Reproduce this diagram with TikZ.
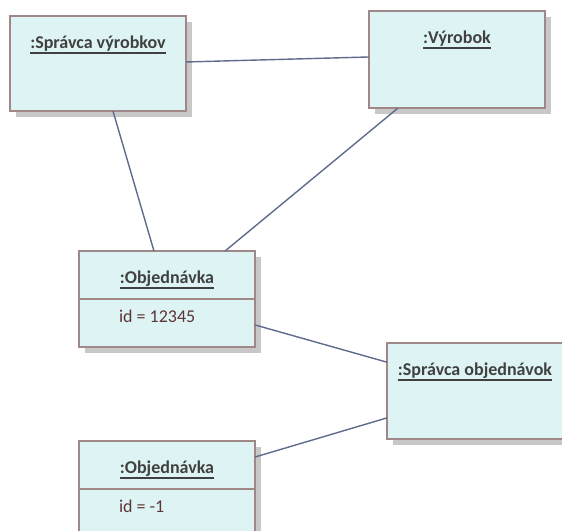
\documentclass[tikz,border=0pt]{standalone}
\usepackage{fontspec}
\setmainfont{Carlito}
\usetikzlibrary{calc,shadows}

\definecolor{objfill}{HTML}{DEF4F4}
\definecolor{objborder}{HTML}{A08888}
\definecolor{objshadow}{HTML}{C8C8C8}
\definecolor{linkcol}{HTML}{5F6B8C}
\definecolor{titlecol}{HTML}{404040}
\definecolor{attrcol}{HTML}{5E3535}

\tikzset{
  objbox/.style={draw=objborder, line width=2pt, fill=objfill, rectangle,
    anchor=north west, minimum width=176pt, minimum height=96pt,
    inner sep=0pt, outer sep=0pt,
    drop shadow={shadow xshift=6pt, shadow yshift=-6pt, fill=objshadow, opacity=1}},
  objtitle/.style={anchor=base, inner sep=0pt, outer sep=0pt, text=titlecol,
    font=\fontsize{18}{21}\selectfont\bfseries},
  objattr/.style={anchor=base west, inner sep=0pt, outer sep=0pt, text=attrcol,
    font=\fontsize{18}{21}\selectfont},
  titleline/.style={draw=titlecol, line width=1.5pt},
  divider/.style={draw=objborder, line width=2pt},
  link/.style={draw=linkcol, line width=1.4pt}
}

\begin{document}
\begin{tikzpicture}[x=1pt, y=-1pt]
\useasboundingbox (0,0) rectangle (562,530);

% object boxes
\node[objbox, minimum height=95pt] (pv) at (10,16) {};
\node[objbox, minimum height=97pt] (vy) at (369,11) {};
\node[objbox] (o1) at (79,251) {};
\node[objbox] (po) at (387,343) {};
\node[objbox] (o2) at (79,441) {};

% compartment separators
\draw[divider] ($(o1.north west)+(0,48)$) -- ($(o1.north east)+(0,48)$);
\draw[divider] ($(o2.north west)+(0,48)$) -- ($(o2.north east)+(0,48)$);

% object names (underlined)
\node[objtitle] (tpv) at ($(pv.north)+(0,32)$) {:Správca výrobkov};
\node[objtitle] (tvy) at ($(vy.north)+(0,32)$) {:Výrobok};
\node[objtitle] (to1) at ($(o1.north)+(0,32)$) {:Objednávka};
\node[objtitle] (tpo) at ($(po.north)+(0,32)$) {:Správca objednávok};
\node[objtitle] (to2) at ($(o2.north)+(0,32)$) {:Objednávka};
\foreach \t in {tpv,tvy,to1,tpo,to2}{
  \draw[titleline] ($(\t.base west)+(0,5)$) -- ($(\t.base east)+(0,5)$);
}

% attribute values
\node[objattr] (a1) at ($(o1.north west)+(40,71)$) {id = 12345};
\node[objattr] (a2) at ($(o2.north west)+(40,71)$) {id = -1};

% links
\draw[link] ($(pv.north east)!0.484!(pv.south east)$) -- ($(vy.north west)!0.474!(vy.south west)$);
\draw[link] ($(pv.south west)!0.585!(pv.south east)$) -- ($(o1.north west)!0.426!(o1.north east)$);
\draw[link] ($(vy.south west)!0.165!(vy.south east)$) -- ($(o1.north west)!0.83!(o1.north east)$);
\draw[link] ($(o1.north east)!0.77!(o1.south east)$) -- ($(po.north west)!0.2!(po.south west)$);
\draw[link] ($(o2.north east)!0.167!(o2.south east)$) -- ($(po.north west)!0.78!(po.south west)$);
\end{tikzpicture}
\end{document}
